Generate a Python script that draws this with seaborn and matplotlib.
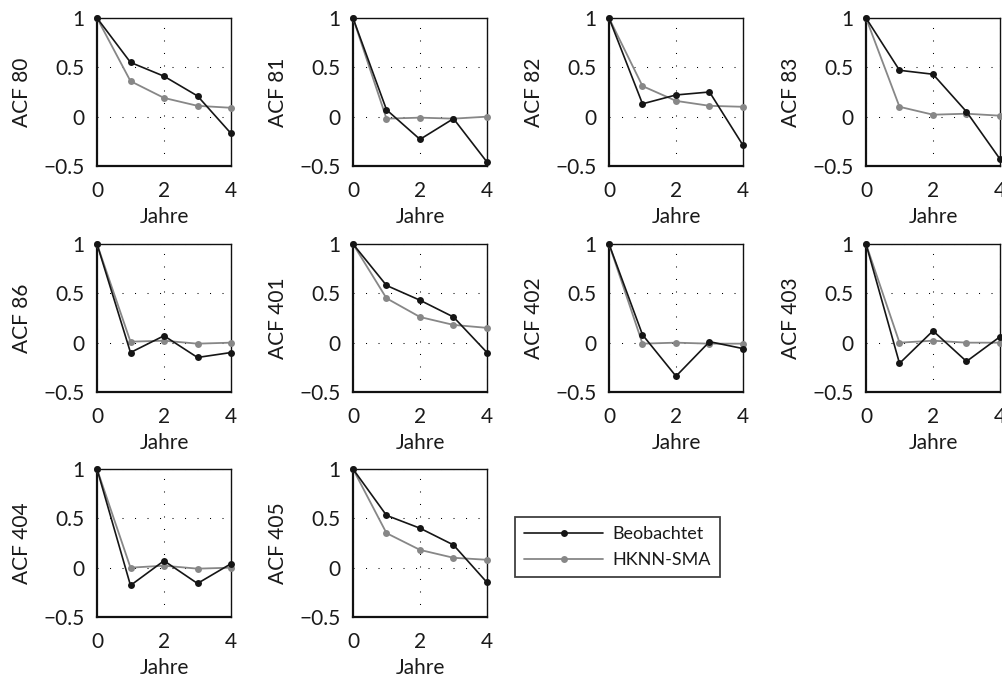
import numpy as np
import pandas as pd
import seaborn as sns
import matplotlib.pyplot as plt
from matplotlib.lines import Line2D

# Autocorrelation of annual values per station, lags 0..4 years
lags = [0, 1, 2, 3, 4]
stations = ["80", "81", "82", "83", "86", "401", "402", "403", "404", "405"]

observed = [
    [1.0, 0.55, 0.41, 0.21, -0.17],
    [1.0, 0.07, -0.23, -0.02, -0.46],
    [1.0, 0.13, 0.22, 0.25, -0.29],
    [1.0, 0.47, 0.43, 0.05, -0.43],
    [1.0, -0.10, 0.07, -0.15, -0.10],
    [1.0, 0.58, 0.43, 0.26, -0.10],
    [1.0, 0.08, -0.34, 0.01, -0.06],
    [1.0, -0.21, 0.12, -0.19, 0.06],
    [1.0, -0.18, 0.07, -0.16, 0.04],
    [1.0, 0.53, 0.40, 0.23, -0.15],
]
simulated = [
    [1.0, 0.36, 0.19, 0.11, 0.09],
    [1.0, -0.02, -0.01, -0.02, 0.00],
    [1.0, 0.31, 0.16, 0.11, 0.10],
    [1.0, 0.10, 0.02, 0.03, 0.01],
    [1.0, 0.01, 0.02, -0.01, 0.00],
    [1.0, 0.45, 0.26, 0.18, 0.15],
    [1.0, -0.01, 0.00, -0.01, -0.01],
    [1.0, 0.00, 0.02, 0.00, 0.00],
    [1.0, 0.00, 0.02, -0.01, 0.00],
    [1.0, 0.35, 0.18, 0.10, 0.08],
]
series_names = ["Beobachtet", "HKNN-SMA"]
x_ticks = [0, 2, 4]
y_ticks = [-0.5, 0, 0.5, 1]
y_ticklabels = ["\u22120.5", "0", "0.5", "1"]

rows = []
for st, obs, sim in zip(stations, observed, simulated):
    for lag, o, s in zip(lags, obs, sim):
        rows.append((st, lag, o, series_names[0]))
        rows.append((st, lag, s, series_names[1]))
df = pd.DataFrame(rows, columns=["Station", "Lag", "ACF", "Reihe"])

sns.set_theme(style="white")
plt.rcParams["font.family"] = ["Lato", "DejaVu Sans"]

palette = {series_names[0]: "#151515", series_names[1]: "#878787"}
lw = {series_names[0]: 1.2, series_names[1]: 1.3}

W, H = 1003, 677
fig = plt.figure(figsize=(W / 100, H / 100), dpi=100)

col_left = [97, 353, 609, 866]
row_top = [18, 244, 469]
ax_w, ax_h = 134, 148

for i, st in enumerate(stations):
    r, c = divmod(i, 4)
    ax = fig.add_axes([col_left[c] / W, 1 - (row_top[r] + ax_h) / H, ax_w / W, ax_h / H])
    sub = df[df["Station"] == st]
    # grey series first so the observed line sits on top
    for name in series_names[::-1]:
        sns.lineplot(data=sub[sub["Reihe"] == name], x="Lag", y="ACF",
                     color=palette[name], lw=lw[name], marker="o", ms=5,
                     mec="none", ax=ax, legend=False, clip_on=False, zorder=3)
    ax.set_xlim(0, 4)
    ax.set_ylim(-0.5, 1)
    ax.set_xticks(x_ticks)
    ax.set_xticklabels([str(t) for t in x_ticks])
    ax.set_yticks(y_ticks)
    ax.set_yticklabels(y_ticklabels)
    ax.grid(True, color="black", lw=0.75, ls=(0, (1, 11)))
    ax.tick_params(axis="both", length=0, labelsize=15, colors="#1a1a1a")
    ax.tick_params(axis="x", pad=11)
    ax.tick_params(axis="y", pad=9)
    ax.set_xlabel("Jahre", fontsize=15, labelpad=4, color="#1a1a1a")
    ax.set_ylabel(f"ACF {st}", fontsize=15, labelpad=8, color="#1a1a1a")
    for side, sp in ax.spines.items():
        sp.set_visible(True)
        sp.set_color("#111111")
        sp.set_linewidth(1.6 if side in ("left", "bottom") else 1.0)

handles = [Line2D([], [], color=palette[n], lw=lw[n], marker="o", ms=5, mec="none")
           for n in series_names]
leg = fig.legend(handles, series_names, loc="upper left",
                 bbox_to_anchor=(515 / W, 1 - 517 / H), borderaxespad=0,
                 fontsize=13, handlelength=4.4, handletextpad=0.5,
                 borderpad=0.5, labelspacing=0.55, fancybox=False,
                 frameon=True, labelcolor="#1a1a1a")
leg.get_frame().set_edgecolor("#111111")
leg.get_frame().set_linewidth(1.3)

fig.savefig("out.png", dpi=100)
